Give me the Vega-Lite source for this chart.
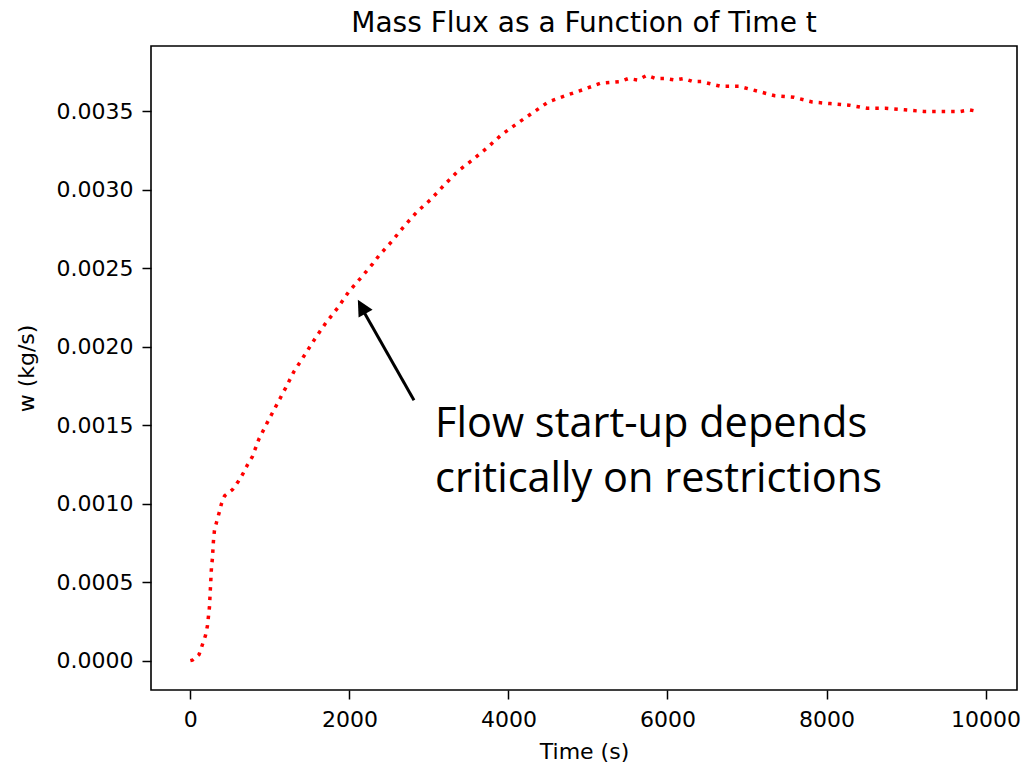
{
  "$schema": "https://vega.github.io/schema/vega-lite/v6.json",
  "width": 866,
  "height": 644,
  "autosize": "none",
  "padding": {"left": 151, "top": 46, "right": 8, "bottom": 76},
  "background": "white",
  "config": {
    "font": "DejaVu Sans",
    "view": {"stroke": "black", "strokeWidth": 1.6},
    "axis": {
      "domain": false,
      "grid": false,
      "tickColor": "black",
      "tickWidth": 1.5,
      "tickSize": 9,
      "labelColor": "black",
      "labelFont": "DejaVu Sans",
      "labelFontSize": 22,
      "titleFont": "DejaVu Sans",
      "titleFontSize": 22,
      "titleFontWeight": "normal",
      "titleColor": "black"
    }
  },
  "title": {
    "text": "Mass Flux as a Function of Time t",
    "font": "DejaVu Sans",
    "fontSize": 28,
    "fontWeight": "normal",
    "color": "black",
    "anchor": "middle",
    "offset": 8
  },
  "layer": [
    {
      "data": {
        "values": [
          {"t": 0, "w": 0.0},
          {"t": 25, "w": 0.000003},
          {"t": 110, "w": 0.00004},
          {"t": 150, "w": 0.0001},
          {"t": 190, "w": 0.00016},
          {"t": 214, "w": 0.00022},
          {"t": 227, "w": 0.00028},
          {"t": 240, "w": 0.00034},
          {"t": 252, "w": 0.00046},
          {"t": 265, "w": 0.00059},
          {"t": 277, "w": 0.00065},
          {"t": 290, "w": 0.00076},
          {"t": 303, "w": 0.00083},
          {"t": 328, "w": 0.00088},
          {"t": 366, "w": 0.00095},
          {"t": 391, "w": 0.001},
          {"t": 430, "w": 0.00105},
          {"t": 530, "w": 0.00109},
          {"t": 600, "w": 0.00114},
          {"t": 660, "w": 0.00119},
          {"t": 720, "w": 0.00125},
          {"t": 780, "w": 0.0013},
          {"t": 860, "w": 0.00141},
          {"t": 970, "w": 0.00152},
          {"t": 1085, "w": 0.00163},
          {"t": 1200, "w": 0.00174},
          {"t": 1300, "w": 0.00184},
          {"t": 1440, "w": 0.00195},
          {"t": 1565, "w": 0.00205},
          {"t": 1700, "w": 0.00215},
          {"t": 1855, "w": 0.00225},
          {"t": 1990, "w": 0.00235},
          {"t": 2145, "w": 0.00244},
          {"t": 2295, "w": 0.00253},
          {"t": 2370, "w": 0.00258},
          {"t": 2530, "w": 0.00267},
          {"t": 2690, "w": 0.00277},
          {"t": 2850, "w": 0.00286},
          {"t": 3025, "w": 0.00294},
          {"t": 3190, "w": 0.00303},
          {"t": 3365, "w": 0.00312},
          {"t": 3545, "w": 0.00319},
          {"t": 3735, "w": 0.00327},
          {"t": 3910, "w": 0.00335},
          {"t": 4100, "w": 0.00342},
          {"t": 4300, "w": 0.00349},
          {"t": 4500, "w": 0.00356},
          {"t": 4715, "w": 0.0036},
          {"t": 4945, "w": 0.00364},
          {"t": 5160, "w": 0.00368},
          {"t": 5400, "w": 0.00369},
          {"t": 5510, "w": 0.00371},
          {"t": 5625, "w": 0.0037},
          {"t": 5740, "w": 0.00373},
          {"t": 5850, "w": 0.00371},
          {"t": 5975, "w": 0.00371},
          {"t": 6090, "w": 0.0037},
          {"t": 6205, "w": 0.00371},
          {"t": 6320, "w": 0.00369},
          {"t": 6430, "w": 0.00369},
          {"t": 6670, "w": 0.00366},
          {"t": 6900, "w": 0.00366},
          {"t": 7125, "w": 0.00363},
          {"t": 7350, "w": 0.0036},
          {"t": 7590, "w": 0.00359},
          {"t": 7820, "w": 0.00356},
          {"t": 8045, "w": 0.00355},
          {"t": 8285, "w": 0.00354},
          {"t": 8510, "w": 0.00352},
          {"t": 8740, "w": 0.00352},
          {"t": 8980, "w": 0.00351},
          {"t": 9220, "w": 0.0035},
          {"t": 9445, "w": 0.0035},
          {"t": 9685, "w": 0.0035},
          {"t": 9800, "w": 0.00351},
          {"t": 9900, "w": 0.0035}
        ]
      },
      "mark": {"type": "line", "color": "#ff0000", "strokeWidth": 3.5, "strokeDash": [3.5, 6], "strokeCap": "butt", "clip": true},
      "encoding": {
        "x": {
          "field": "t", "type": "quantitative",
          "scale": {"domain": [-495, 10395], "nice": false, "zero": false},
          "axis": {"title": "Time (s)", "values": [0, 2000, 4000, 6000, 8000, 10000], "format": "d", "labelPadding": 10, "titlePadding": 11}
        },
        "y": {
          "field": "w", "type": "quantitative",
          "scale": {"domain": [-0.000187, 0.003917], "nice": false, "zero": false},
          "axis": {"title": "w (kg/s)", "values": [0, 0.0005, 0.001, 0.0015, 0.002, 0.0025, 0.003, 0.0035], "format": ".4f", "labelPadding": 9, "titlePadding": 18}
        }
      }
    },
    {
      "data": {"values": [{"t1": 2812, "w1": 0.00166, "t2": 2140, "w2": 0.00226}]},
      "mark": {"type": "rule", "color": "black", "strokeWidth": 3},
      "encoding": {
        "x": {"field": "t1", "type": "quantitative"},
        "y": {"field": "w1", "type": "quantitative"},
        "x2": {"field": "t2"},
        "y2": {"field": "w2"}
      }
    },
    {
      "data": {"values": [{"t": 2106, "w": 0.0023}]},
      "mark": {"type": "point", "filled": true, "color": "black", "opacity": 1, "shape": "M0,0 L-0.5,1 L0.5,1 Z", "size": 1024, "angle": 331},
      "encoding": {
        "x": {"field": "t", "type": "quantitative"},
        "y": {"field": "w", "type": "quantitative"}
      }
    },
    {
      "data": {"values": [{"t": 3077, "w": 0.001425, "label": "Flow start-up depends\ncritically on restrictions"}]},
      "mark": {"type": "text", "font": "Open Sans", "fontSize": 41.5, "align": "left", "baseline": "alphabetic", "lineBreak": "\n", "lineHeight": 55, "color": "black"},
      "encoding": {
        "x": {"field": "t", "type": "quantitative"},
        "y": {"field": "w", "type": "quantitative"},
        "text": {"field": "label"}
      }
    }
  ]
}
